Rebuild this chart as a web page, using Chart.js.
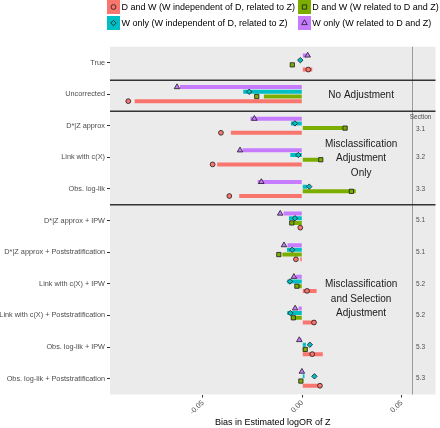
<!DOCTYPE html>
<html>
<head>
<meta charset="utf-8">
<script src="https://cdn.jsdelivr.net/npm/chart.js@4.4.1/dist/chart.umd.min.js"></script>
<style>
html,body{margin:0;padding:0;background:#fff;}
#wrap{position:relative;width:440px;height:428px;}
#c{position:absolute;left:0;top:0;}
#legend{position:absolute;left:107px;top:0;display:grid;grid-template-columns:190.7px auto;grid-auto-rows:16px;font:9px "Liberation Sans",Arial,sans-serif;color:#000;white-space:nowrap;}
.item{display:flex;align-items:center;height:14px;}
.item canvas{width:13px;height:14px;margin-right:1.5px;flex:none;}
</style>
</head>
<body>
<div id="wrap"><canvas id="c" width="440" height="428"></canvas><div id="legend"></div></div>
<script>
// ---------------- data ----------------
const rowLabels = ["True","Uncorrected","D*|Z approx","Link with c(X)","Obs. log-lik",
  "D*|Z approx + IPW","D*|Z approx + Poststratification","Link with c(X) + IPW",
  "Link with c(X) + Poststratification","Obs. log-lik + IPW","Obs. log-lik + Poststratification"];
const sectionLabels = ["","","3.1","3.2","3.3","5.1","5.1","5.2","5.2","5.3","5.3"];

const seriesNames = [
  "W only (W related to D and Z)",
  "W only (W independent of D, related to Z)",
  "D and W (W related to D and Z)",
  "D and W (W independent of D, related to Z)"
];
// bar values (bias) per series
const barsWRel  = [0.0020,-0.0615,-0.0261,-0.0300,-0.0224,-0.0094,-0.0074,-0.0031,-0.0019,-0.0005,0];
const barsWInd  = [-0.0005,-0.0297,-0.0057,-0.0060,0.0025,-0.0067,-0.0077,-0.0075,-0.0075,0.0018,0.0011];
const barsDWRel = [0,-0.0193,0.0228,0.0098,0.0269,-0.0050,-0.0100,-0.0017,-0.0055,0.0022,0];
const barsDWInd = [0.0050,-0.0843,-0.0359,-0.0428,-0.0317,-0.0008,-0.0010,0.0072,0.0069,0.0103,0.0094];
// point values per series
const ptsWRel  = [0.0027,-0.0630,-0.0241,-0.0313,-0.0206,-0.0111,-0.0092,-0.0042,-0.0036,-0.0015,-0.0002];
const ptsWInd  = [-0.0010,-0.0267,-0.0037,-0.0020,0.0035,-0.0037,-0.0051,-0.0062,-0.0060,0.0038,0.0061];
const ptsDWRel = [-0.0050,-0.0229,0.0215,0.0093,0.0247,-0.0053,-0.0118,-0.0027,-0.0045,0.0015,-0.0007];
const ptsDWInd = [0.0030,-0.0875,-0.0409,-0.0451,-0.0367,-0.0010,-0.0032,0.0024,0.0059,0.0050,0.0089];

const xTickValues = [-0.05, 0, 0.05];
const xTickLabels = ["-0.05","0.00","0.05"];
const groupNotes = [["No Adjustment"],["Misclassification","Adjustment","Only"],["Misclassification","and Selection","Adjustment"]];

// ---------------- styling ----------------
const FONT = '"Liberation Sans", Arial, sans-serif';
const series = [
  {name: seriesNames[0], color:'#C77CFF', bars: barsWRel,  pts: ptsWRel,  style:'triangle', r:3.2},
  {name: seriesNames[1], color:'#00BFC4', bars: barsWInd,  pts: ptsWInd,  style:'rectRot',  r:2.7},
  {name: seriesNames[2], color:'#7CAE00', bars: barsDWRel, pts: ptsDWRel, style:'rect',     r:3.0},
  {name: seriesNames[3], color:'#F8766D', bars: barsDWInd, pts: ptsDWInd, style:'circle',   r:2.4}
];
const legendOrder = [3,2,1,0];
const X_MIN = -0.0967, X_MAX = 0.0670, SECTION_X = 0.0550, SECTION_LABEL_X = 0.0595, NOTE_X = 0.0296;
const GROUP_SPAN = 0.595;          // fraction of a row used by the 4 dodged series
const BAR_PCT = 0.85;              // bar thickness relative to its slot
const slot = GROUP_SPAN / series.length;
const N = rowLabels.length;
const dodge = (k, i) => i + (k - (series.length - 1) / 2) * slot;

// ---------------- legend ----------------
function drawSymbol(ctx, style, x, y, r, fill){
  ctx.save();
  ctx.fillStyle = fill; ctx.strokeStyle = '#1a1a1a'; ctx.lineWidth = 0.8;
  ctx.beginPath();
  if (style === 'circle') { ctx.arc(x, y, r, 0, Math.PI*2); }
  else if (style === 'rect') { const s = r*Math.SQRT1_2; ctx.rect(x-s, y-s, 2*s, 2*s); }
  else if (style === 'rectRot') { ctx.moveTo(x, y-r); ctx.lineTo(x+r, y); ctx.lineTo(x, y+r); ctx.lineTo(x-r, y); ctx.closePath(); }
  else if (style === 'triangle') {
    let a = 0; ctx.moveTo(x + Math.sin(a)*r, y - Math.cos(a)*r);
    a += 2*Math.PI/3; ctx.lineTo(x + Math.sin(a)*r, y - Math.cos(a)*r);
    a += 2*Math.PI/3; ctx.lineTo(x + Math.sin(a)*r, y - Math.cos(a)*r);
    ctx.closePath();
  }
  ctx.fill(); ctx.stroke();
  ctx.restore();
}
const legendEl = document.getElementById('legend');
legendOrder.forEach(k => {
  const s = series[k];
  const item = document.createElement('div'); item.className = 'item';
  const cv = document.createElement('canvas'); cv.width = 13; cv.height = 14;
  const cx = cv.getContext('2d');
  cx.fillStyle = s.color; cx.fillRect(0,0,13,14);
  drawSymbol(cx, s.style, 6.5, 7, s.r, s.color);
  const sp = document.createElement('span'); sp.textContent = s.name;
  item.appendChild(cv); item.appendChild(sp);
  legendEl.appendChild(item);
});

// ---------------- plugins ----------------
const panelPlugin = {
  id: 'panel',
  beforeDraw(chart){
    const {ctx, chartArea: a} = chart;
    ctx.save(); ctx.fillStyle = '#EBEBEB';
    ctx.fillRect(a.left, a.top, a.right - a.left, a.bottom - a.top);
    ctx.restore();
  },
  beforeDatasetsDraw(chart){
    const {ctx, chartArea: a, scales} = chart;
    const xs = scales.x, ys = scales.yPts;
    ctx.save();
    const vx = Math.round(xs.getPixelForValue(SECTION_X)) + 0.5;
    ctx.strokeStyle = '#9a9a9a'; ctx.lineWidth = 1;
    ctx.beginPath(); ctx.moveTo(vx, a.top); ctx.lineTo(vx, a.bottom); ctx.stroke();
    ctx.strokeStyle = '#333333'; ctx.lineWidth = 1.4;
    [0.56, 1.54, 4.5].forEach(v => {
      const py = ys.getPixelForValue(v);
      ctx.beginPath(); ctx.moveTo(a.left, py); ctx.lineTo(a.right, py); ctx.stroke();
    });
    ctx.restore();
  },
  afterDatasetsDraw(chart){
    const {ctx, scales} = chart;
    const xs = scales.x, ys = scales.yPts;
    ctx.save();
    ctx.textAlign = 'center'; ctx.textBaseline = 'middle';
    ctx.fillStyle = '#1a1a1a'; ctx.font = '10px ' + FONT;
    const noteCenters = [1.05, 3.03, 7.48];
    const lineStep = 0.46;
    groupNotes.forEach((lines, g) => {
      lines.forEach((t, j) => {
        const yv = noteCenters[g] + (j - (lines.length - 1)/2) * lineStep;
        ctx.fillText(t, xs.getPixelForValue(NOTE_X), ys.getPixelForValue(yv));
      });
    });
    ctx.fillStyle = '#4d4d4d'; ctx.font = '6.5px ' + FONT;
    const sx = xs.getPixelForValue(SECTION_LABEL_X);
    ctx.fillText('Section', sx, ys.getPixelForValue(1.72));
    sectionLabels.forEach((t, i) => {
      if (!t) return;
      const yv = i === 2 ? 2.1 : i;
      ctx.fillText(t, sx, ys.getPixelForValue(yv));
    });
    ctx.restore();
  }
};

// ---------------- chart ----------------
const datasets = series.map((s, k) => ({
  type: 'bar', label: s.name, indexAxis: 'y', grouped: false,
  data: s.bars.map((v, i) => ({x: v, y: dodge(k, i)})),
  xAxisID: 'x', yAxisID: 'yPts', backgroundColor: s.color, borderWidth: 0,
  categoryPercentage: 1, barPercentage: BAR_PCT, order: 2
})).concat(series.map((s, k) => ({
  type: 'scatter', label: s.name + ' (pt)', indexAxis: 'x',
  data: s.pts.map((v, i) => ({x: v, y: dodge(k, i)})),
  xAxisID: 'x', yAxisID: 'yPts', pointStyle: s.style, pointRadius: s.r, pointHoverRadius: s.r,
  pointBackgroundColor: s.color, pointBorderColor: '#1a1a1a', pointBorderWidth: 0.8, order: 1
})));

new Chart(document.getElementById('c'), {
  type: 'bar',
  data: { labels: rowLabels, datasets },
  options: {
    indexAxis: 'y',
    responsive: false, animation: false, devicePixelRatio: 1,
    layout: { padding: { top: 46.7, right: 4.5, left: 0, bottom: 0 } },
    plugins: { legend: { display: false }, tooltip: { enabled: false } },
    scales: {
      x: {
        type: 'linear', position: 'bottom', min: X_MIN, max: X_MAX, offset: false,
        afterBuildTicks: s => { s.ticks = xTickValues.map(v => ({ value: v })); },
        afterFit: s => { s.height = 33.5; },
        ticks: { autoSkip: false, minRotation: 45, maxRotation: 45, padding: 1,
          callback: (v, i) => xTickLabels[i], color: '#4d4d4d', font: { family: FONT, size: 7.3 } },
        grid: { drawOnChartArea: false, tickLength: 3, color: '#333333', lineWidth: 1 },
        border: { display: false },
        title: { display: true, text: 'Bias in Estimated logOR of Z', color: '#000',
          font: { family: FONT, size: 9 }, padding: 0 }
      },
      y: {
        type: 'category', position: 'left', labels: rowLabels, offset: true,
        afterFit: s => { s.width = 110; },
        ticks: { autoSkip: false, padding: 2, color: '#4d4d4d', font: { family: FONT, size: 7.3 } },
        grid: { drawOnChartArea: false, offset: false, tickLength: 3, color: '#333333', lineWidth: 1 },
        border: { display: false }
      },
      yPts: {
        type: 'linear', axis: 'y', position: 'left', display: false, offset: false,
        min: -0.5, max: N - 0.5, reverse: true, grid: { offset: false }
      }
    }
  },
  plugins: [panelPlugin]
});
</script>
</body>
</html>
